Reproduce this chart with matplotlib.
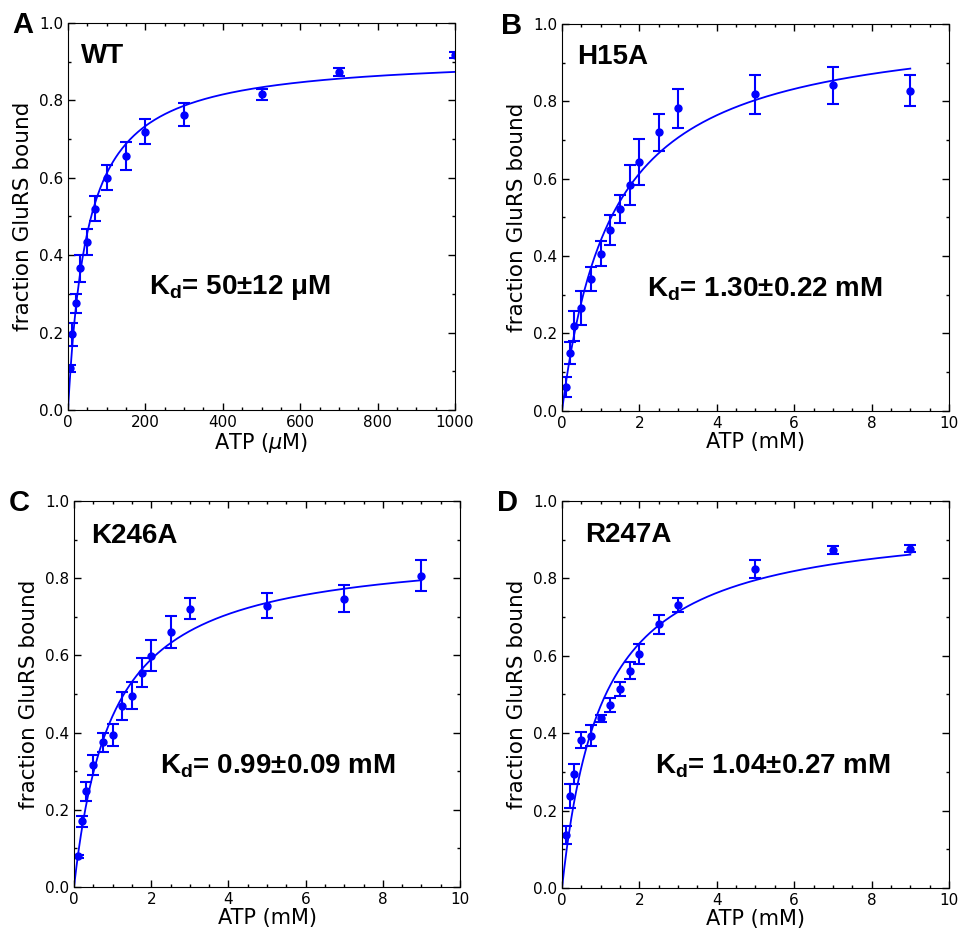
import matplotlib
matplotlib.use("Agg")
import matplotlib.pyplot as plt
from matplotlib.ticker import MultipleLocator
import numpy as np

plt.rcParams['mathtext.fontset'] = 'custom'
plt.rcParams['mathtext.rm'] = 'Liberation Sans'
plt.rcParams['mathtext.bf'] = 'Liberation Sans:bold'
plt.rcParams['mathtext.it'] = 'DejaVu Sans:italic'

# WT (ATP in uM)
wt_x = [5, 10, 20, 30, 50, 70, 100, 150, 200, 300, 500, 700, 1000]
wt_y = [0.107, 0.195, 0.275, 0.366, 0.434, 0.520, 0.600, 0.656, 0.719, 0.763, 0.815, 0.874, 0.916]
wt_err = [0.010, 0.030, 0.025, 0.035, 0.033, 0.033, 0.032, 0.035, 0.033, 0.030, 0.015, 0.010, 0.008]
wt_kd, wt_bmax = 50, 0.917

# mutants (ATP in mM)
mut_x = [0.1, 0.2, 0.3, 0.5, 0.75, 1.0, 1.25, 1.5, 1.75, 2.0, 2.5, 3.0, 5.0, 7.0, 9.0]

h15a_y = [0.062, 0.150, 0.219, 0.266, 0.341, 0.406, 0.468, 0.522, 0.583, 0.643, 0.720, 0.782, 0.818, 0.841, 0.827]
h15a_err = [0.026, 0.028, 0.038, 0.043, 0.031, 0.033, 0.039, 0.036, 0.052, 0.059, 0.048, 0.050, 0.050, 0.047, 0.040]
h15a_kd, h15a_bmax = 1.30, 1.012

k246a_y = [0.079, 0.170, 0.248, 0.317, 0.375, 0.393, 0.469, 0.496, 0.555, 0.599, 0.661, 0.721, 0.729, 0.747, 0.806]
k246a_err = [0.004, 0.015, 0.024, 0.026, 0.025, 0.029, 0.036, 0.036, 0.038, 0.040, 0.041, 0.027, 0.032, 0.035, 0.040]
k246a_kd, k246a_bmax = 0.99, 0.882

r247a_y = [0.137, 0.238, 0.295, 0.382, 0.393, 0.438, 0.473, 0.515, 0.561, 0.604, 0.681, 0.731, 0.824, 0.873, 0.877]
r247a_err = [0.023, 0.031, 0.026, 0.021, 0.027, 0.010, 0.019, 0.018, 0.022, 0.026, 0.024, 0.019, 0.023, 0.011, 0.008]
r247a_kd, r247a_bmax = 1.04, 0.961

blue = '#0000ff'
bold_font = 'Liberation Sans'

fig = plt.figure(figsize=(9.65, 9.38), dpi=100)

panels = [
    # letter, name, x, y, err, kd, bmax, xmax, xmajor, xminor, xlabel, kd text, rect, name pos, kd pos, letter x
    ('A', 'WT', wt_x, wt_y, wt_err, wt_kd, wt_bmax, 1000, 200, 50, r'ATP ($\mu$M)',
     r'$\mathbf{K_d}$= 50±12 μM', [0.0705, 0.563, 0.401, 0.4126], (0.034, 0.897), (0.21, 0.30), -0.145),
    ('B', 'H15A', mut_x, h15a_y, h15a_err, h15a_kd, h15a_bmax, 10, 2, 0.5, 'ATP (mM)',
     r'$\mathbf{K_d}$= 1.30±0.22 mM', [0.5824, 0.562, 0.401, 0.4126], (0.039, 0.897), (0.22, 0.295), -0.158),
    ('C', 'K246A', mut_x, k246a_y, k246a_err, k246a_kd, k246a_bmax, 10, 2, 0.5, 'ATP (mM)',
     r'$\mathbf{K_d}$= 0.99±0.09 mM', [0.0767, 0.0544, 0.400, 0.4115], (0.044, 0.891), (0.223, 0.293), -0.17),
    ('D', 'R247A', mut_x, r247a_y, r247a_err, r247a_kd, r247a_bmax, 10, 2, 0.5, 'ATP (mM)',
     r'$\mathbf{K_d}$= 1.04±0.27 mM', [0.5824, 0.0533, 0.401, 0.4126], (0.059, 0.894), (0.24, 0.295), -0.168),
]

for letter, name, x, y, err, kd, bmax, xmax, xmaj, xmin, xlabel, kdtxt, rect, npos, kpos, lx in panels:
    ax = fig.add_axes(rect)
    # fitted binding curve
    xs = np.linspace(0, max(x), 300)
    ax.plot(xs, bmax * xs / (kd + xs), color=blue, lw=1.3)
    ax.errorbar(x, y, yerr=err, fmt='o', color=blue, ms=5, elinewidth=1.5,
                capsize=4.5, capthick=1.5)
    ax.set_xlim(0, xmax)
    ax.set_ylim(0, 1.0)
    ax.xaxis.set_major_locator(MultipleLocator(xmaj))
    ax.xaxis.set_minor_locator(MultipleLocator(xmin))
    ax.yaxis.set_major_locator(MultipleLocator(0.2))
    ax.yaxis.set_minor_locator(MultipleLocator(0.1))
    ax.tick_params(which='both', direction='in', top=True, right=True, labelsize=11)
    ax.tick_params(which='major', length=5, width=1)
    ax.tick_params(which='minor', length=2.5, width=1)
    ax.set_xlabel(xlabel, fontsize=15, labelpad=1)
    ax.set_ylabel('fraction GluRS bound', fontsize=15.5, labelpad=4)
    ax.text(npos[0], npos[1], name, transform=ax.transAxes, fontsize=20,
            fontweight='bold', family=bold_font)
    ax.text(kpos[0], kpos[1], kdtxt, transform=ax.transAxes, fontsize=20,
            fontweight='bold', family=bold_font)
    ax.text(lx, 1.03, letter, transform=ax.transAxes,
            fontsize=21, fontweight='bold', family=bold_font, va='top')

fig.savefig('out.png', dpi=100)
